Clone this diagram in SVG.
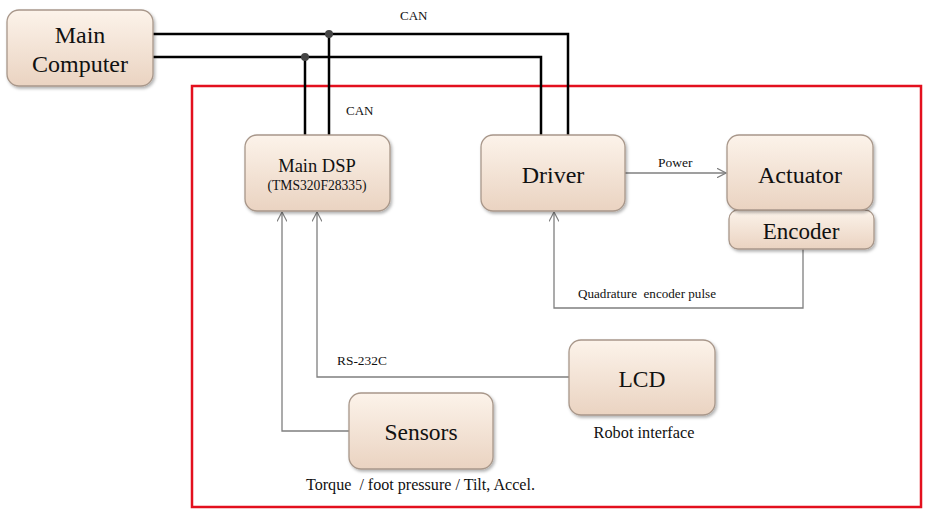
<svg xmlns="http://www.w3.org/2000/svg" width="936" height="516" viewBox="0 0 936 516">
<defs>
<linearGradient id="g" x1="0" y1="0" x2="0" y2="1">
<stop offset="0" stop-color="#fcf3ea"/>
<stop offset="1" stop-color="#ead3c1"/>
</linearGradient>
<filter id="sh" x="-10%" y="-10%" width="130%" height="140%">
<feDropShadow dx="1.5" dy="2" stdDeviation="1.5" flood-color="#000" flood-opacity="0.3"/>
</filter>
<marker id="arr" viewBox="0 0 10 10" refX="9.5" refY="5" markerWidth="10" markerHeight="10" markerUnits="userSpaceOnUse" orient="auto">
<path d="M0,0 L9.5,5 L0,10" fill="none" stroke="#7f7f7f" stroke-width="1.2"/>
</marker>
</defs>
<style>
.n{fill:url(#g);stroke:#a8978a;stroke-width:1.3;filter:url(#sh)}
.t{font-family:"Liberation Serif","Times New Roman",serif;fill:#111;text-anchor:middle}
.l{font-family:"Liberation Serif","Times New Roman",serif;fill:#111;white-space:pre}
.can{fill:none;stroke:#000;stroke-width:2.5}
.c{fill:none;stroke:#7f7f7f;stroke-width:1.3}
</style>
<rect width="936" height="516" fill="#fff"/>
<rect id="board" x="192" y="86" width="729" height="421" fill="none" stroke="#e3101e" stroke-width="2.5"/>
<g id="connectors">
<path class="can" d="M153,34 H568 V135"/>
<path class="can" d="M153,57 H541 V135"/>
<path class="can" d="M329,34 V135"/>
<path class="can" d="M305,57 V135"/>
<circle cx="329" cy="34" r="4" fill="#444"/>
<circle cx="305" cy="57" r="4" fill="#444"/>
<path class="c" d="M625,173 H726" marker-end="url(#arr)"/>
<path class="c" d="M803,249 V308 H554 V212" marker-end="url(#arr)"/>
<path class="c" d="M569,377 H317 V212" marker-end="url(#arr)"/>
<path class="c" d="M349,431 H282 V212" marker-end="url(#arr)"/>
<text class="l" x="400" y="20" font-size="13">CAN</text>
<text class="l" x="346" y="115" font-size="13">CAN</text>
<text class="l" x="658" y="167" font-size="13.5">Power</text>
<text class="l" x="578" y="298" font-size="13" xml:space="preserve" textLength="138" lengthAdjust="spacingAndGlyphs">Quadrature  encoder pulse</text>
<text class="l" x="337" y="365" font-size="13.4">RS-232C</text>
</g>
<g id="main-computer">
<rect class="n" x="7" y="10" width="146" height="76" rx="12"/>
<text class="t" x="80" y="43" font-size="24">Main</text>
<text class="t" x="80" y="72" font-size="24">Computer</text>
</g>
<g id="main-dsp">
<rect class="n" x="245" y="135" width="145" height="76" rx="12"/>
<text class="t" x="317" y="172" font-size="18.5">Main DSP</text>
<text class="t" x="317" y="190" font-size="13.6">(TMS320F28335)</text>
</g>
<g id="driver">
<rect class="n" x="481" y="135" width="144" height="76" rx="12"/>
<text class="t" x="553" y="183" font-size="24">Driver</text>
</g>
<g id="encoder">
<rect class="n" x="729" y="210" width="145" height="39" rx="9"/>
<text class="t" x="801" y="239" font-size="23">Encoder</text>
</g>
<g id="actuator">
<rect class="n" x="727" y="135" width="146" height="75" rx="12"/>
<text class="t" x="800" y="183" font-size="24">Actuator</text>
</g>
<g id="lcd">
<rect class="n" x="569" y="340" width="146" height="75" rx="12"/>
<text class="t" x="642" y="387" font-size="23.5">LCD</text>
<text class="t" x="644" y="438" font-size="16.3">Robot interface</text>
</g>
<g id="sensors">
<rect class="n" x="349" y="393" width="144" height="76" rx="12"/>
<text class="t" x="421" y="440" font-size="23.5">Sensors</text>
<text class="l" x="306" y="490" font-size="16" xml:space="preserve" textLength="229" lengthAdjust="spacingAndGlyphs">Torque  / foot pressure / Tilt, Accel.</text>
</g>
</svg>
